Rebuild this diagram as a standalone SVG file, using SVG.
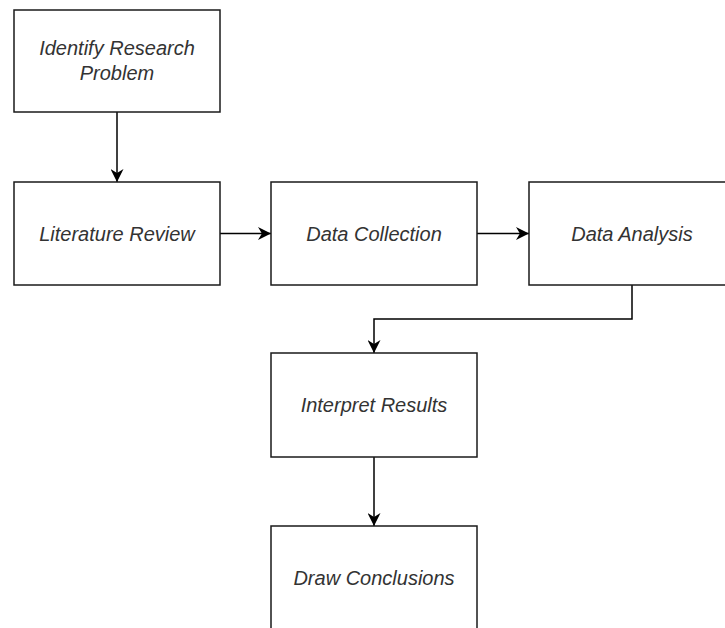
<svg xmlns="http://www.w3.org/2000/svg" width="725" height="628" viewBox="0 0 725 628">
  <style>
    .box { fill: #ffffff; stroke: #1a1a1a; stroke-width: 1.5; }
    .lbl { font-family: "Liberation Sans", Arial, sans-serif; font-size: 20px; font-style: italic; fill: #333333; text-anchor: middle; }
    .edge { fill: none; stroke: #000000; stroke-width: 1.5; }
  </style>
  <defs>
    <marker id="arrow" markerWidth="13" markerHeight="13" refX="10" refY="5" orient="auto" markerUnits="userSpaceOnUse" viewBox="0 0 10 10">
      <path d="M0,0 L10,5 L0,10 L3,5 Z" fill="#000000"/>
    </marker>
  </defs>
  <rect width="725" height="628" fill="#ffffff"/>
  <g id="connectors">
    <path class="edge" d="M117,112 L117,182" marker-end="url(#arrow)"/>
    <path class="edge" d="M220,233.5 L271,233.5" marker-end="url(#arrow)"/>
    <path class="edge" d="M477,233.5 L529,233.5" marker-end="url(#arrow)"/>
    <path class="edge" d="M632,285 L632,319 L374,319 L374,353" marker-end="url(#arrow)"/>
    <path class="edge" d="M374,457 L374,526" marker-end="url(#arrow)"/>
  </g>
  <g id="identify">
    <rect class="box" x="14" y="10" width="206" height="102"/>
    <text class="lbl" x="117" y="55">Identify Research</text>
    <text class="lbl" x="117" y="80">Problem</text>
  </g>
  <g id="literature">
    <rect class="box" x="14" y="182" width="206" height="103"/>
    <text class="lbl" x="117" y="240.5">Literature Review</text>
  </g>
  <g id="collection">
    <rect class="box" x="271" y="182" width="206" height="103"/>
    <text class="lbl" x="374" y="240.5">Data Collection</text>
  </g>
  <g id="analysis">
    <rect class="box" x="529" y="182" width="206" height="103"/>
    <text class="lbl" x="632" y="240.5">Data Analysis</text>
  </g>
  <g id="interpret">
    <rect class="box" x="271" y="353" width="206" height="104"/>
    <text class="lbl" x="374" y="411.5">Interpret Results</text>
  </g>
  <g id="conclusions">
    <rect class="box" x="271" y="526" width="206" height="104"/>
    <text class="lbl" x="374" y="584.5">Draw Conclusions</text>
  </g>
</svg>
